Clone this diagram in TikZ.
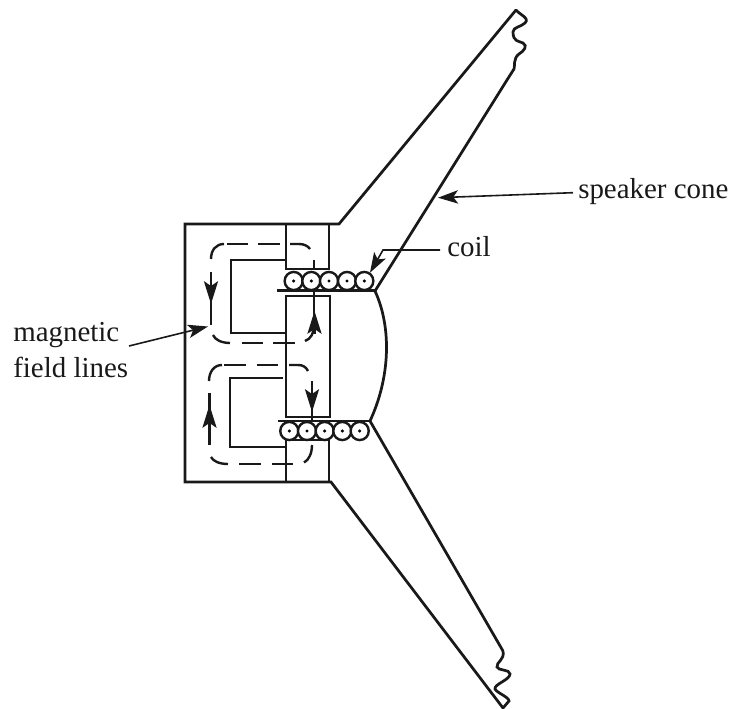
\documentclass[tikz,border=0pt]{standalone}
\usepackage{fontspec}
\setmainfont{Liberation Serif}
\usetikzlibrary{arrows.meta}
\tikzset{
  x=0.75pt,y=-0.75pt,
  body/.style={line width=2.05pt,line join=miter,color=black!90},
  fieldline/.style={line width=1.8pt,color=black!90},
  wire/.style={line width=1.2pt,color=black!90},
  coilturn/.style={circle,draw=black!90,line width=1.8pt,fill=white,minimum size=13.6pt,inner sep=0pt},
  coildot/.style={circle,fill=black,minimum size=2.6pt,inner sep=0pt},
  lbl/.style={font=\fontsize{21.7pt}{27pt}\selectfont,inner sep=0pt,align=left,color=black!90},
  bighead/.style={-{Stealth[length=17pt,width=10.5pt,inset=3.5pt]}},
  smallhead/.style={-{Stealth[length=15pt,width=10pt,inset=3.5pt]}}
}
\begin{document}
\begin{tikzpicture}
\useasboundingbox (0,0) rectangle (732,709);
% frame and poles
\draw[body] (516,10) -- (339,224) -- (185,224) -- (185,482) -- (331,482) -- (503,708);
\draw[body] (286,224) -- (286,269) -- (329,269) -- (329,224);
\draw[body] (286,260) -- (231,260) -- (231,333) -- (286,333);
\draw[body] (286,296) rectangle (330,417);
\draw[body] (283,378) -- (230,378) -- (230,447) -- (286,447);
\draw[body] (286,440) -- (329,440) -- (329,482);
\draw[body] (286,440) -- (286,482);
% cone
\draw[body] (375,291) .. controls (392,328) and (390,378) .. (370,421);
\draw[body] (375,291) -- (507,80);
\draw[body] (370,421) -- (503,651);
% torn edges
\draw[body,line cap=round] (516,10) .. controls (520,15) and (530,18) .. (525,23)
  .. controls (521,27) and (513,27) .. (513,32) .. controls (513,42) and (519,41) .. (523,43)
  .. controls (528,46) and (524,51) .. (519,54) .. controls (513,58) and (515,67) .. (514,69) -- (507,80);
\draw[body,line cap=round] (503,651) .. controls (505,660) and (496,662) .. (497,667)
  .. controls (498,671) and (510,669) .. (510,674) .. controls (510,680) and (494,684) .. (495,689)
  .. controls (497,693) and (509,697) .. (509,701) -- (503,708);
% upper field loop
\draw[fieldline] (211,259) .. controls (211,250) and (216,244) .. (224,244);
\draw[fieldline] (227,244) -- (248,244);
\draw[fieldline] (258,244) -- (280,244);
\draw[fieldline] (290,244) -- (299,244) .. controls (304,244) and (308,246) .. (310,249);
\draw[fieldline] (211,272) -- (211,325);
\draw[fieldline,bighead] (211,282) -- (211,304);
\draw[fieldline] (213,335) .. controls (215,340) and (222,343) .. (230,343);
\draw[fieldline] (242,343) -- (263,343);
\draw[fieldline] (273,343) -- (295,343);
\draw[fieldline] (305,341) .. controls (311,339) and (314,333) .. (314,325);
\draw[fieldline] (313.7,260) -- (313.7,270);
\draw[fieldline] (313.7,291) -- (313.7,325);
\draw[fieldline,bighead] (314.5,334) -- (314.5,311);
% lower field loop
\draw[fieldline] (209,381) .. controls (209,372) and (214,365) .. (222,365);
\draw[fieldline] (224,365) -- (246,365);
\draw[fieldline] (257,365) -- (278,365);
\draw[fieldline] (289,365) -- (298,365) .. controls (303,365) and (306,367) .. (308,371);
\draw[fieldline] (312,381) -- (312,421);
\draw[fieldline,bighead] (312,388) -- (312,412);
\draw[fieldline] (209.5,393) -- (209.5,445);
\draw[fieldline,bighead] (209.5,428) -- (209.5,405);
\draw[fieldline] (211,457) .. controls (213,461) and (219,464) .. (228,464);
\draw[fieldline] (239,464) -- (261,464);
\draw[fieldline] (272,464) -- (293,464);
\draw[fieldline] (304,462.5) .. controls (309,460) and (312,453) .. (312,445);
% coils
\foreach \n/\cx in {a/293.7,b/311.3,c/329,d/347,e/364.3}{
  \node[coilturn] (top\n) at (\cx,281) {};
  \node[coildot] at (top\n.center) {};
}
\foreach \n/\cx in {a/289.3,b/307,c/324.7,d/342.3,e/359.7}{
  \node[coilturn] (bot\n) at (\cx,431) {};
  \node[coildot] at (bot\n.center) {};
}
% coil plates
\draw[body] (277,290.5) -- (375,290.5);
\draw[body] (278,421) -- (370,421);
% labels
\node[lbl,anchor=base west] (cone) at (578,199) {speaker cone};
\node[lbl,anchor=base west] (coil) at (447,257) {coil};
\node[lbl,anchor=south west] (mag) at (13,378) {magnetic\\field lines};
\coordinate (conetip) at (438,197.7);
\coordinate (conestart) at (573,192.7);
\coordinate (coilstart) at (440,250);
\coordinate (coilelbow) at (383,250);
\coordinate (coiltip) at (370,272.7);
\coordinate (magstart) at (129,346);
\coordinate (magtip) at (208,326.5);
\draw[wire,smallhead] (conestart) -- (conetip);
\draw[wire,smallhead] (coilstart) -- (coilelbow) -- (coiltip);
\draw[wire,smallhead] (magstart) -- (magtip);
\end{tikzpicture}
\end{document}
